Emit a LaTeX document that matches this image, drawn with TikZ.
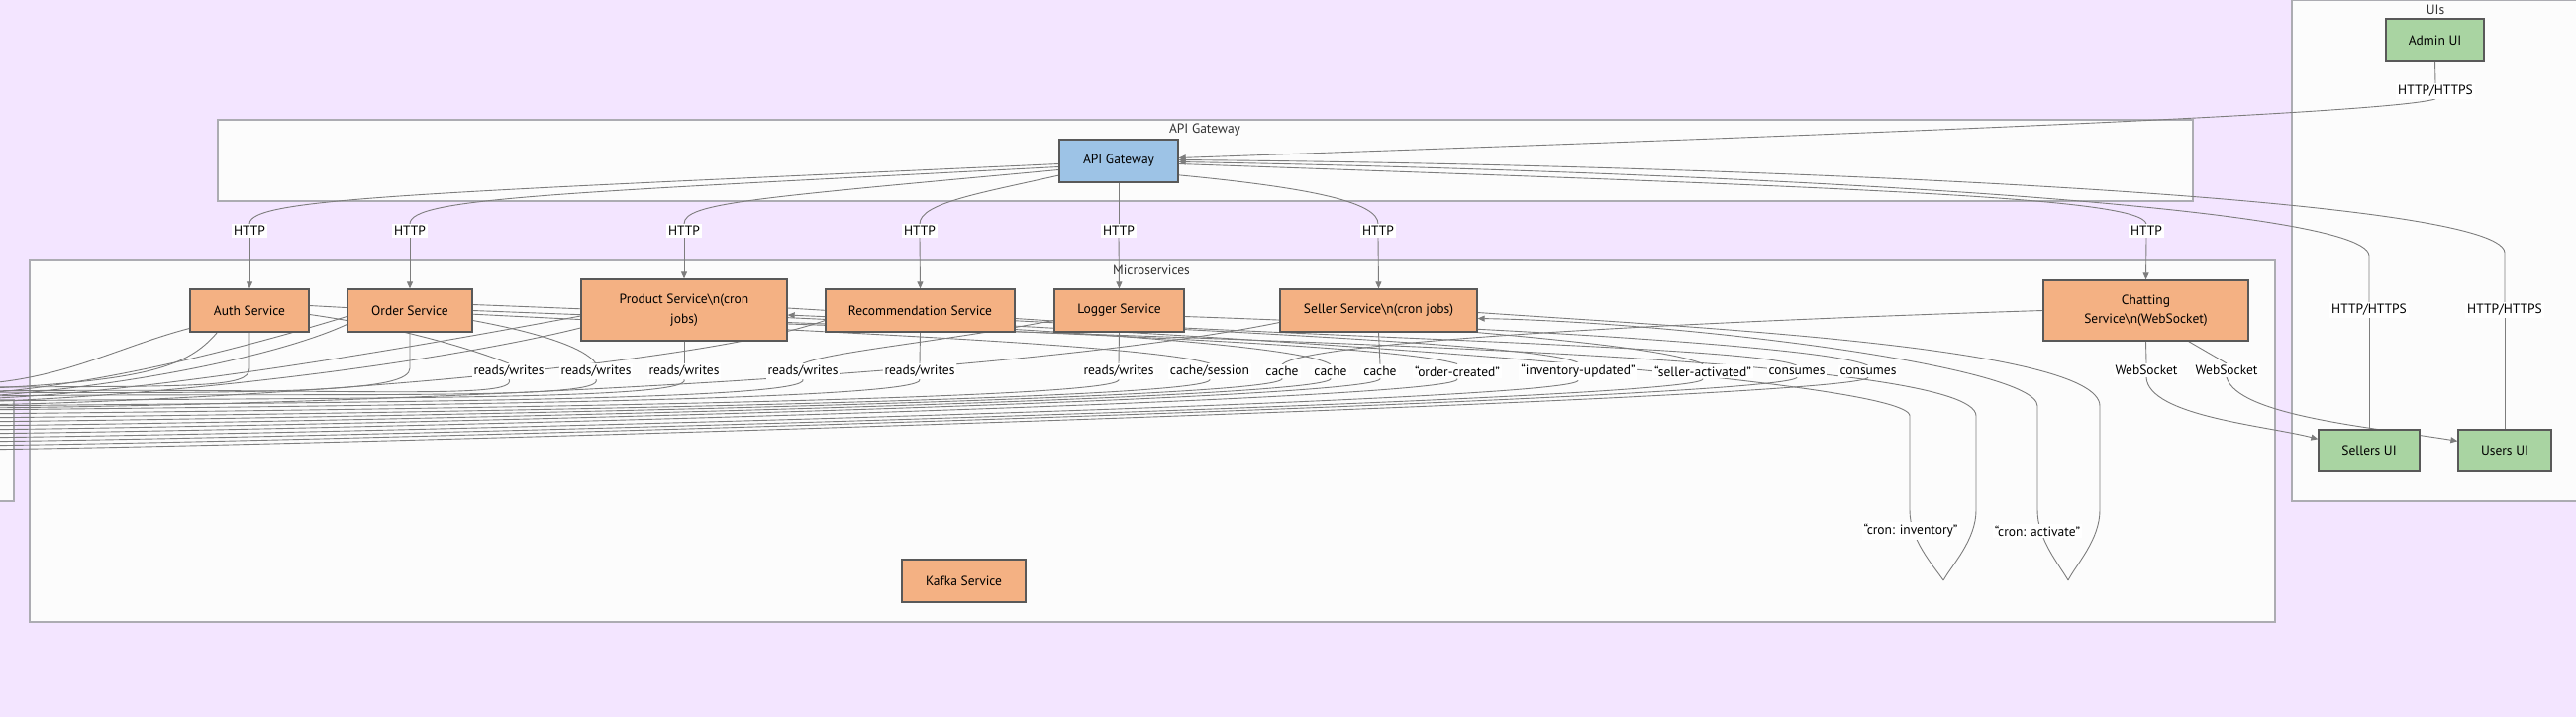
\documentclass[tikz,border=0pt]{standalone}
\usepackage{fontspec}
\setmainfont{PT Sans}
\usetikzlibrary{arrows.meta,positioning,calc}
\definecolor{bgpurple}{RGB}{243,229,255}
\definecolor{clfill}{RGB}{252,252,252}
\definecolor{clline}{RGB}{172,172,178}
\definecolor{svcorange}{RGB}{244,177,131}
\definecolor{uigreen}{RGB}{169,212,162}
\definecolor{gwblue}{RGB}{157,195,230}
\definecolor{wire}{RGB}{125,125,125}
\pgfdeclarelayer{back}
\pgfdeclarelayer{wires}
\pgfsetlayers{back,wires,main}

\begin{document}
\begin{tikzpicture}[x=1pt,y=-1pt,
    font=\fontsize{13.5}{19.5}\selectfont,
    box/.style={draw=black!65, line width=1.3pt, align=center, minimum height=43pt, inner sep=2pt},
    svc/.style={box, fill=svcorange},
    ui/.style={box, fill=uigreen},
    gwbox/.style={box, fill=gwblue},
    cluster/.style={draw=clline, fill=clfill, line width=1.2pt},
    ctitle/.style={text=black!80},
    elabel/.style={fill=white, inner sep=2pt},
    link/.style={draw=wire, line width=0.9pt},
    arr/.style={link, -{Triangle[length=7pt,width=6pt]}}]
  \useasboundingbox (0,0) rectangle (2602,724);

  % clusters
  \begin{pgfonlayer}{back}
    \fill[bgpurple] (0,0) rectangle (2602,724);
    \draw[cluster] (2315,0) rectangle (2606,506);
    \draw[cluster] (220,121) rectangle (2215,203);
    \draw[cluster] (30,263) rectangle (2298,628);
    \draw[cluster] (-300,404) rectangle (14,506);
  \end{pgfonlayer}
  \node[ctitle] (t-uis) at (2460,10) {UIs};
  \node[ctitle] (t-gw) at (1217,131) {API Gateway};
  \node[ctitle] (t-ms) at (1163,273) {Microservices};

  % nodes
  \node[ui, minimum width=99pt] (admin) at (2459.5,40.5) {Admin UI};
  \node[ui, minimum width=102pt, minimum height=42pt] (sellers) at (2393,455) {Sellers UI};
  \node[ui, minimum width=94pt, minimum height=42pt] (users) at (2530,455) {Users UI};
  \node[gwbox, minimum width=120pt] (gw) at (1130,162.5) {API Gateway};
  \node[svc, minimum width=120pt] (auth) at (252,313.5) {Auth Service};
  \node[svc, minimum width=126pt] (order) at (414,313.5) {Order Service};
  \node[svc, minimum width=208pt, minimum height=62pt] (product) at (691,313) {Product Service\textbackslash n(cron\\jobs)};
  \node[svc, minimum width=191pt] (rec) at (929.5,313.5) {Recommendation Service};
  \node[svc, minimum width=131pt] (logger) at (1130.5,313.5) {Logger Service};
  \node[svc, minimum width=199pt] (seller) at (1392.5,313.5) {Seller Service\textbackslash n(cron jobs)};
  \node[svc, minimum width=207pt, minimum height=61pt] (chat) at (2167.5,313.5) {Chatting\\Service\textbackslash n(WebSocket)};
  \node[svc, minimum width=125pt] (kafka) at (973.5,586.5) {Kafka Service};

  % edge labels
  \foreach \s/\x in {auth/252, order/414, product/691, rec/929, logger/1130, seller/1392, chat/2168}
    \node[elabel] (http-\s) at (\x,233) {HTTP};
  \node[elabel] (https-admin) at (2460,92) {HTTP/HTTPS};
  \node[elabel] (https-sellers) at (2393,313) {HTTP/HTTPS};
  \node[elabel] (https-users) at (2530,313) {HTTP/HTTPS};
  \node[elabel] (ws-sellers) at (2168,374) {WebSocket};
  \node[elabel] (ws-users) at (2249,374) {WebSocket};
  \node[elabel] (rw1) at (514,375) {reads/writes};
  \node[elabel] (rw2) at (602,375) {reads/writes};
  \node[elabel] (rw3) at (691,375) {reads/writes};
  \node[elabel] (rw4) at (811,375) {reads/writes};
  \node[elabel] (rw5) at (929,375) {reads/writes};
  \node[elabel] (rw6) at (1130,375) {reads/writes};
  \node[elabel] (cs) at (1222,375) {cache/session};
  \node[elabel] (ca1) at (1295,375) {cache};
  \node[elabel] (ca2) at (1344,375) {cache};
  \node[elabel] (ca3) at (1394,375) {cache};
  \node[elabel] (ev1) at (1472,375) {“order-created”};
  \node[elabel] (ev2) at (1594,375) {“inventory-updated”};
  \node[elabel] (ev3) at (1720,375) {“seller-activated”};
  \node[elabel] (cn1) at (1815,375) {consumes};
  \node[elabel] (cn2) at (1887,375) {consumes};
  \node[elabel] (cron-inv) at (1930,536) {“cron: inventory”};
  \node[elabel] (cron-act) at (2058,536) {“cron: activate”};

  % off-picture stores on the left
  \foreach \n/\ty in {1/388,2/391,3/393,4/396,5/398,6/401,7/403,8/406,9/409,10/412,
                      11/395,12/400,13/405,14/410,15/414,16/418,17/422,18/426,19/430,
                      20/434,21/438,22/442,23/446,24/450,25/454}
    \coordinate (db\n) at (-30,\ty);
  \coordinate (inv-tip) at (1963,586);
  \coordinate (act-tip) at (2089,586);

  \begin{pgfonlayer}{wires}
    % UIs to gateway
    \draw[link] (admin.south) -- (https-admin.north);
    \draw[arr] (https-admin.south) .. controls (2400,118) and (1600,145) .. ($(gw.east)+(0,-3)$);
    \draw[link] (sellers.north) -- (https-sellers.south);
    \draw[arr] (https-sellers.north) -- (2393,258) .. controls (2390,205) and (1700,172) .. ($(gw.east)+(0,1)$);
    \draw[link] (users.north) -- (https-users.south);
    \draw[arr] (https-users.north) -- (2530,255) .. controls (2527,198) and (1750,166) .. ($(gw.east)+(0,-1)$);
    % gateway to services
    \draw[link] ($(gw.west)+(0,3)$) .. controls (420,195) and (252,200) .. (http-auth.north);
    \draw[link] ($(gw.west)+(0,6)$) .. controls (560,195) and (414,200) .. (http-order.north);
    \draw[link] ($(gw.west)+(0,9)$) .. controls (760,200) and (691,205) .. (http-product.north);
    \draw[link] ($(gw.south west)+(2,-8)$) .. controls (990,195) and (929,205) .. (http-rec.north);
    \draw[link] (gw.south) -- (http-logger.north);
    \draw[link] ($(gw.south east)+(-2,-8)$) .. controls (1330,190) and (1392,205) .. (http-seller.north);
    \draw[link] ($(gw.east)+(0,3)$) .. controls (1900,190) and (2162,200) .. (http-chat.north);
    \foreach \s in {auth, order, product, rec, logger, seller, chat}
      \draw[arr] (http-\s.south) -- (\s.north);
    % chatting to UIs
    \draw[link] (chat.south) -- (ws-sellers.north);
    \draw[arr] (ws-sellers.south) .. controls (2170,420) and (2290,430) .. ($(sellers.north west)+(0,10)$);
    \draw[link] ($(chat.south east)+(-61,0)$) -- (ws-users.north);
    \draw[arr] (ws-users.south) .. controls (2260,420) and (2400,432) .. ($(users.north west)+(0,12)$);
    % services to labels
    \draw[link] ($(auth.east)+(0,4)$) .. controls (400,330) and (470,350) .. (rw1.north);
    \draw[link] ($(order.east)+(0,10)$) .. controls (540,335) and (590,350) .. (rw2.north);
    \draw[link] (product.south) -- (rw3.north);
    \draw[link] ($(logger.west)+(0,10)$) .. controls (950,345) and (840,355) .. (rw4.north);
    \draw[link] (rec.south) -- (rw5.north);
    \draw[link] (logger.south) -- (rw6.north);
    \draw[link] ($(auth.east)+(0,-5)$) .. controls (700,330) and (1150,345) .. (cs.north);
    \draw[link] (chat.west) .. controls (1700,325) and (1320,345) .. (ca1.north);
    \draw[link] ($(order.east)+(0,-6)$) .. controls (800,320) and (1300,340) .. (ca2.north);
    \draw[link] (seller.south) -- (ca3.north);
    \draw[link] (order.east) .. controls (900,330) and (1400,345) .. (ev1.north);
    \draw[link] ($(product.east)+(0,-2)$) .. controls (1100,330) and (1550,345) .. (ev2.north);
    \draw[link] (seller.south east) .. controls (1600,345) and (1690,355) .. (ev3.north);
    \draw[link] ($(rec.east)+(0,8)$) .. controls (1300,340) and (1780,350) .. (cn1.north);
    \draw[link] ($(logger.east)+(0,6)$) .. controls (1500,330) and (1850,350) .. (cn2.north);
    % labels to the stores
    \foreach \l/\n in {rw1/11, rw2/12, rw3/13, rw4/14, rw5/15, rw6/16, cs/17, ca1/18,
                       ca2/19, ca3/20, ev1/21, ev2/22, ev3/23, cn1/24, cn2/25}
      \draw[link] (\l.south) .. controls +(12,22) and +(380,-4) .. (db\n);
    % unlabelled links to the stores
    \draw[link] ($(auth.west)+(0,18)$) .. controls (120,350) and (60,385) .. (db1);
    \draw[link] (auth.south) -- (252,372) .. controls (252,392) and (200,390) .. (db2);
    \draw[link] ($(auth.south west)+(28,0)$) .. controls (190,370) and (150,385) .. (db3);
    \draw[link] (order.south) -- (414,372) .. controls (414,395) and (300,398) .. (db4);
    \draw[link] ($(order.west)+(0,6)$) .. controls (250,350) and (100,390) .. (db5);
    \draw[link] ($(order.west)+(0,14)$) .. controls (280,360) and (120,392) .. (db6);
    \draw[link] ($(product.west)+(0,6)$) .. controls (420,350) and (150,398) .. (db7);
    \draw[link] ($(product.west)+(0,18)$) .. controls (450,365) and (180,400) .. (db8);
    \draw[link] ($(rec.west)+(0,10)$) .. controls (700,370) and (250,405) .. (db9);
    \draw[link] ($(seller.west)+(0,12)$) .. controls (1000,385) and (300,410) .. (db10);
    % cron self loops
    \draw[link] ($(product.east)+(0,14)$) .. controls (1300,345) and (1996,360) .. (1996,420)
      -- (1996,515) .. controls (1996,545) and (1972,570) .. (inv-tip);
    \draw[arr] (inv-tip) .. controls (1952,570) and (1929,545) .. (1929,515)
      -- (1929,420) .. controls (1929,385) and (1300,340) .. ($(product.east)+(0,5)$);
    \draw[link] ($(seller.east)+(0,2)$) .. controls (1700,330) and (2121,350) .. (2121,410)
      -- (2121,515) .. controls (2121,545) and (2097,570) .. (act-tip);
    \draw[arr] (act-tip) .. controls (2080,570) and (2058,545) .. (2058,515)
      -- (2058,410) .. controls (2058,370) and (1700,325) .. ($(seller.east)+(0,8)$);
  \end{pgfonlayer}
\end{tikzpicture}
\end{document}
